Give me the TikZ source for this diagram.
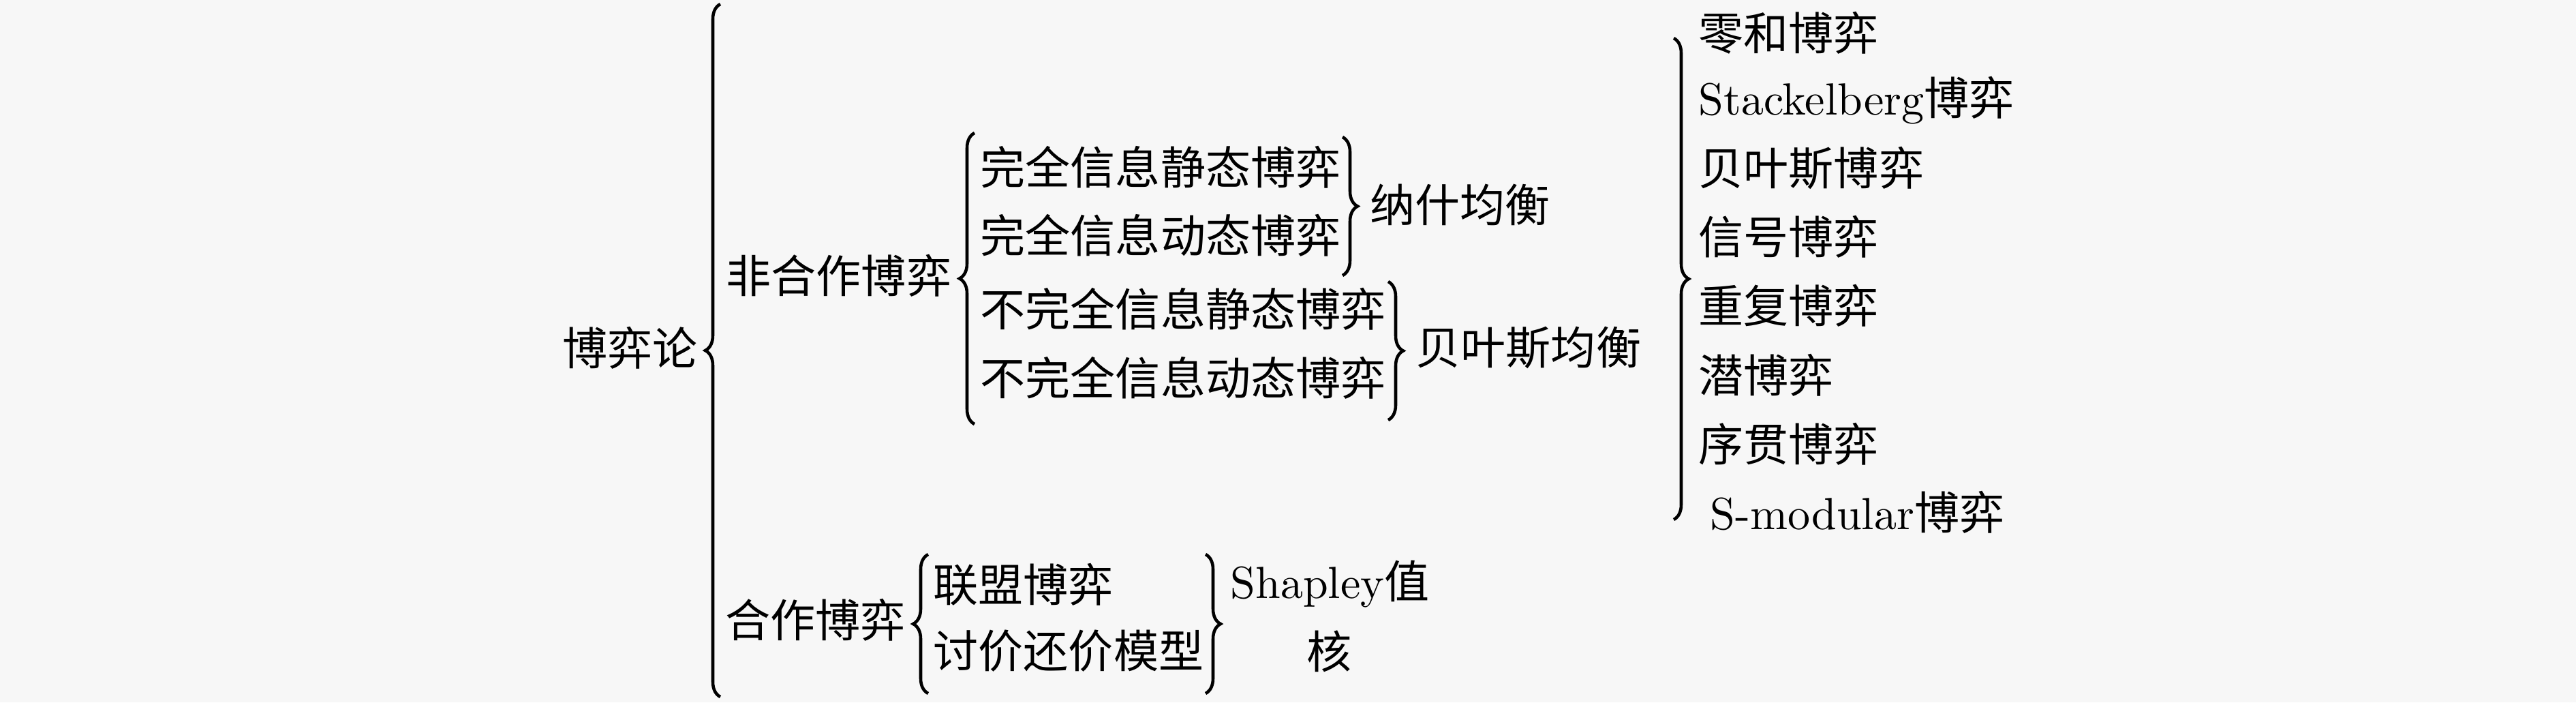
\documentclass[tikz,border=0pt]{standalone}
\usepackage{fontspec}
\setmainfont{lmroman10-regular}[Extension=.otf]
\newfontfamily\cjk{Noto Sans CJK SC}
\usetikzlibrary{decorations.pathreplacing}
\definecolor{bgcol}{RGB}{247,247,247}
\begin{document}
\begin{tikzpicture}[
  lbl/.style={anchor=west, inner sep=0pt, font=\fontsize{18.8pt}{22pt}\selectfont},
  brc/.style={draw=black, line width=1.3pt, decorate, decoration={brace, amplitude=0.22cm}},
]
\fill[bgcol] (0,0) rectangle (37.8,-10.3);
\useasboundingbox (0,0) rectangle (37.8,-10.3);

% level 0
\node[lbl] (root) at (8.25,-5.10) {\cjk 博弈论};
% level 1
\node[lbl] (nc) at (10.65,-4.04) {\cjk 非合作博弈};
\node[lbl] (co) at (10.64,-9.09) {\cjk 合作博弈};
% level 2, non-cooperative
\node[lbl] (a1) at (14.38,-2.45) {\cjk 完全信息静态博弈};
\node[lbl] (a2) at (14.38,-3.45) {\cjk 完全信息动态博弈};
\node[lbl] (a3) at (14.38,-4.53) {\cjk 不完全信息静态博弈};
\node[lbl] (a4) at (14.38,-5.54) {\cjk 不完全信息动态博弈};
\node[lbl] (nash) at (20.10,-3.00) {\cjk 纳什均衡};
\node[lbl] (bayes) at (20.77,-5.10) {\cjk 贝叶斯均衡};
% level 2, cooperative
\node[lbl] (b1) at (13.69,-8.57) {\cjk 联盟博弈};
\node[lbl] (b2) at (13.69,-9.55) {\cjk 讨价还价模型};
\node[lbl] (shap) at (18.05,-8.57) {Shapley{\cjk 值}};
\node[lbl, anchor=center] (core) at (19.51,-9.55) {\cjk 核};
% list
\node[lbl] (l1) at (24.92,-0.48) {\cjk 零和博弈};
\node[lbl] (l2) at (24.92,-1.47) {Stackelberg{\cjk 博弈}};
\node[lbl] (l3) at (24.92,-2.46) {\cjk 贝叶斯博弈};
\node[lbl] (l4) at (24.92,-3.47) {\cjk 信号博弈};
\node[lbl] (l5) at (24.92,-4.48) {\cjk 重复博弈};
\node[lbl] (l6) at (24.92,-5.50) {\cjk 潜博弈};
\node[lbl] (l7) at (24.92,-6.51) {\cjk 序贯博弈};
\node[lbl] (l8) at (25.09,-7.51) {S-modular{\cjk 博弈}};

% brace end points
\coordinate (r0b) at (10.57,-10.22);
\coordinate (r0t) at (10.57,-0.06);
\coordinate (n0b) at (14.30,-6.22);
\coordinate (n0t) at (14.30,-1.95);
\coordinate (naT) at (19.70,-2.01);
\coordinate (naB) at (19.70,-4.04);
\coordinate (baT) at (20.37,-4.13);
\coordinate (baB) at (20.37,-6.16);
\coordinate (c0b) at (13.62,-10.17);
\coordinate (c0t) at (13.62,-8.13);
\coordinate (ccT) at (17.69,-8.13);
\coordinate (ccB) at (17.69,-10.17);
\coordinate (lsT) at (24.56,-0.56);
\coordinate (lsB) at (24.56,-7.62);

\draw[brc] (r0b) -- (r0t);
\draw[brc] (n0b) -- (n0t);
\draw[brc] (naT) -- (naB);
\draw[brc] (baT) -- (baB);
\draw[brc] (c0b) -- (c0t);
\draw[brc] (ccT) -- (ccB);
\draw[brc] (lsT) -- (lsB);
\end{tikzpicture}
\end{document}
